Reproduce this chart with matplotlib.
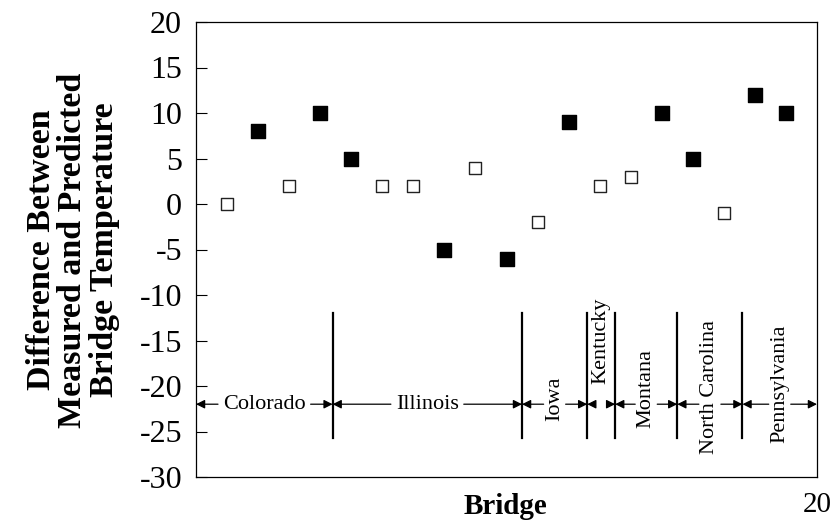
"""
Measured vs predicted bridge temperature difference, grouped by state
"""
import numpy as np
import matplotlib
matplotlib.use("Agg")
import matplotlib.pyplot as plt

# data
bridge = list(range(1, 20))
temp_diff = [0, 8, 2, 10, 5, 2, 2, -5, 4, -6, -2, 9, 2, 3, 10, 5, -1, 12, 10]
filled = [False, True, False, True, True, False, False, True, False, True,
          False, True, False, False, True, True, False, True, True]

states = ["Colorado", "Illinois", "Iowa", "Kentucky", "Montana",
          "North Carolina", "Pennsylvania"]
state_bounds = [0, 4.4, 10.5, 12.6, 13.5, 15.5, 17.6, 20]

y_ticks = list(range(-30, 21, 5))
x_ticks = [20]

# layout of the state annotation
rotated = [False, False, True, True, True, True, True]
label_y = [-22, -22, -21.4, -15, -20.3, -20.1, -19.7]
arrow_y = -22
sep_top, sep_bottom = -12, -25.7

plt.rcParams['font.family'] = ['Liberation Serif', 'DejaVu Serif']
plt.rcParams['axes.unicode_minus'] = False

fig = plt.figure(figsize=(8.35, 5.23), dpi=100)
ax = fig.add_axes([196 / 835, 1 - 477 / 523, (817 - 196) / 835, (477 - 22) / 523])

x = np.array(bridge)
y = np.array(temp_diff)
f = np.array(filled)
ax.scatter(x[f], y[f], marker='s', s=95, color='black', zorder=3)
ax.scatter(x[~f], y[~f], marker='s', s=80, facecolor='white',
           edgecolor='#222222', linewidth=1.0, zorder=3)

ax.set_xlim(0, 20)
ax.set_ylim(-30, 20)
ax.set_yticks(y_ticks)
ax.set_xticks(x_ticks)
ax.tick_params(axis='y', direction='in', length=8, width=0.8, pad=10, labelsize=23)
ax.tick_params(axis='x', length=0, pad=11, labelsize=21)
for s in ax.spines.values():
    s.set_linewidth(0.9)

# separators between states
for b in state_bounds[1:-1]:
    ax.plot([b, b], [sep_top, sep_bottom], color='black', lw=1.6)

# state labels with arrows to the boundaries
fig.canvas.draw()
renderer = fig.canvas.get_renderer()
inv = ax.transData.inverted()
for i, name in enumerate(states):
    lo, hi = state_bounds[i], state_bounds[i + 1]
    cx = (lo + hi) / 2
    t = ax.text(cx, label_y[i], name, ha='center', va='center', fontsize=16,
                rotation=90 if rotated[i] else 0)
    bb = t.get_window_extent(renderer)
    if rotated[i]:
        half = 11
    else:
        half = bb.width / 2 + 5
    cpx = ax.transData.transform((cx, arrow_y))
    left = inv.transform((cpx[0] - half, cpx[1]))[0]
    right = inv.transform((cpx[0] + half, cpx[1]))[0]
    props = dict(arrowstyle='-|>', color='black', lw=0.9, mutation_scale=13,
                 shrinkA=0, shrinkB=0)
    ax.annotate('', xy=(lo, arrow_y), xytext=(left, arrow_y), arrowprops=props)
    ax.annotate('', xy=(hi, arrow_y), xytext=(right, arrow_y), arrowprops=props)

fig.text(505 / 835, 1 - 507 / 523, "Bridge", ha='center', va='center',
         fontsize=21, fontweight='bold')
fig.text(73 / 835, 1 - 250 / 523,
         "Difference Between\nMeasured and Predicted\nBridge Temperature",
         ha='center', va='center', rotation=90, fontsize=24.5,
         fontweight='bold', linespacing=1.03)

fig.savefig("out.png", dpi=100)
